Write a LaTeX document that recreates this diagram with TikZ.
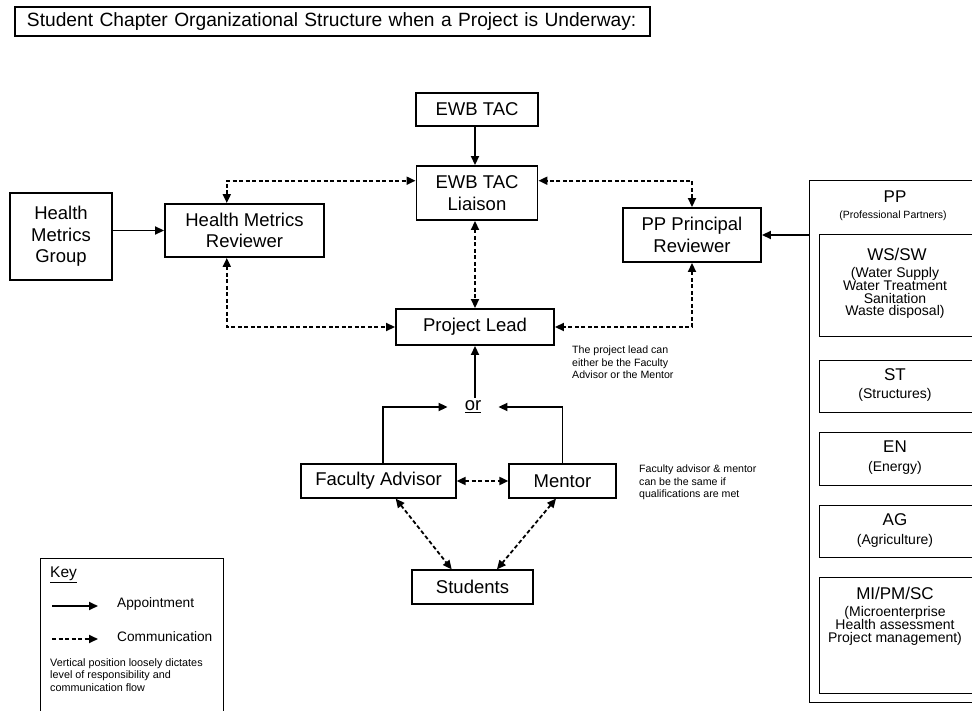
\documentclass[tikz,border=0pt]{standalone}
\usepackage{fontspec}
\setmainfont{Liberation Sans}
\usetikzlibrary{arrows.meta,calc}
\newcommand\fsz[2]{\fontsize{#1}{#2}\selectfont\lineskiplimit=-5pt\relax}
\begin{document}
\begin{tikzpicture}[x=1pt,y=-1pt,
  box/.style={draw, line width=1.9pt, inner sep=2pt, align=center, font=\fsz{18.5}{21.5}},
  tbox/.style={box, line width=1.2pt},
  arr/.style={line width=1.8pt, -{Triangle[length=9pt,width=8pt]}},
  darr/.style={arr, dash pattern=on 4pt off 2.5pt},
  dboth/.style={darr, {Triangle[length=9pt,width=8pt]}-{Triangle[length=9pt,width=8pt]}},
  hdr/.style={inner sep=0pt, font=\fsz{17}{18}},
  sub/.style={inner sep=0pt, align=center, font=\fsz{14}{12.8}},
  note/.style={anchor=north west, inner sep=0pt, align=left, font=\fsz{10.6}{12.4}}]
\useasboundingbox (0,0) rectangle (972,711);
\clip (0,0) rectangle (972,711);
% title
\node[tbox, minimum width=635pt, minimum height=29pt, text width=611pt, align=left, inner xsep=12pt, font=\fsz{19.2}{20}] (title) at (332.5,21.5) {\mbox{Student Chapter Organizational Structure when a Project is Underway:}};
% main boxes
\node[box, minimum width=122pt, minimum height=33pt] (ewbtac) at (477,109.5) {EWB TAC};
\node[box, minimum width=121pt, minimum height=54pt] (liaison) at (477,193) {EWB TAC\\Liaison};
\node[tbox, minimum width=102pt, minimum height=87pt] (hmg) at (61,236.5) {Health\\Metrics\\Group};
\node[box, minimum width=159pt, minimum height=53pt] (hmr) at (244.5,230.5) {Health Metrics\\Reviewer};
\node[box, minimum width=138pt, minimum height=54pt] (ppr) at (692,235) {PP Principal\\Reviewer};
\node[box, minimum width=158pt, minimum height=36pt] (pl) at (475,327) {Project Lead};
\node[inner xsep=17pt, inner ysep=3pt, font=\fsz{18.5}{21.5}] (or) at (473,407) {\underline{or}};
\node[tbox, minimum width=155pt, minimum height=34pt] (fa) at (378.5,481) {Faculty Advisor};
\node[tbox, minimum width=107pt, minimum height=34pt] (mentor) at (562.5,481) {Mentor};
\node[tbox, minimum width=121pt, minimum height=34pt] (students) at (472.5,587) {Students};
% notes
\node[note] (plnote) at (572,346) {The project lead can\\either be the Faculty\\Advisor or the Mentor};
\node[note] (fmnote) at (639,465) {Faculty advisor \& mentor\\can be the same if\\qualifications are met};
% key
\node[tbox, anchor=north west, minimum width=183pt, minimum height=170pt] (key) at (40,558) {};
\node[anchor=west, inner sep=0pt, font=\fsz{15.5}{17}] (keyt) at (50,575) {\underline{Key}};
\coordinate (ka1) at (52,606);
\coordinate (ka2) at (98,606);
\coordinate (kc1) at (52,639);
\coordinate (kc2) at (98,639);
\draw[arr] (ka1) -- (ka2);
\draw[darr] (kc1) -- (kc2);
\node[anchor=west, inner sep=0pt, font=\fsz{13.7}{15}] (appt) at (117,604) {Appointment};
\node[anchor=west, inner sep=0pt, font=\fsz{13.7}{15}] (comm) at (117,637) {Communication};
\node[note, font=\fsz{10.8}{12.5}] (keynote) at (50,658) {Vertical position loosely dictates\\level of responsibility and\\communication flow};
% PP column
\node[tbox, anchor=north west, minimum width=181pt, minimum height=522pt] (pp) at (809,180) {};
\node[hdr] (ppt) at (895,197) {PP};
\node[inner sep=0pt, font=\fsz{10.5}{12}] (pps) at (893,215.5) {(Professional Partners)};
\node[tbox, anchor=north west, minimum width=171pt, minimum height=102pt] (ws) at (819,234) {};
\node[tbox, anchor=north west, minimum width=171pt, minimum height=52pt] (st) at (819,360) {};
\node[tbox, anchor=north west, minimum width=171pt, minimum height=53pt] (en) at (819,432) {};
\node[tbox, anchor=north west, minimum width=171pt, minimum height=52pt] (ag) at (819,505) {};
\node[tbox, anchor=north west, minimum width=171pt, minimum height=116pt] (mi) at (819,577) {};
\node[hdr] (wsh) at (897,254) {WS/SW};
\node[sub] (wss) at (895,293) {(Water Supply\\Water Treatment\\Sanitation\\Waste disposal)};
\node[hdr] (sth) at (895,375) {ST};
\node[sub] (sts) at (895,395) {(Structures)};
\node[hdr] (enh) at (895,447) {EN};
\node[sub] (ens) at (895,468) {(Energy)};
\node[hdr] (agh) at (895,520) {AG};
\node[sub] (ags) at (895,541) {(Agriculture)};
\node[hdr] (mih) at (895,593) {MI/PM/SC};
\node[sub] (mis) at (895,626) {(Microenterprise\\Health assessment\\Project management)};
% helper points
\coordinate (lw) at ($(liaison.north west)!0.28!(liaison.south west)$);
\coordinate (le) at ($(liaison.north east)!0.28!(liaison.south east)$);
\coordinate (hmrt) at ($(hmr.north west)!0.39!(hmr.north east)$);
\coordinate (hmrb) at ($(hmr.south west)!0.39!(hmr.south east)$);
\coordinate (fat) at ($(fa.north west)!0.53!(fa.north east)$);
\coordinate (fab) at ($(fa.south west)!0.61!(fa.south east)$);
\coordinate (mb) at ($(mentor.south west)!0.44!(mentor.south east)$);
\coordinate (st1) at ($(students.north west)!0.33!(students.north east)$);
\coordinate (st2) at ($(students.north west)!0.70!(students.north east)$);
% connectors
\draw[arr] (hmr.west -| hmg.east) -- (hmr.west);
\draw[arr] (pp.west |- ppr.east) -- (ppr.east);
\draw[arr] (ewbtac.south -| pl.north) -- (liaison.north -| pl.north);
\draw[dboth] (hmrt) |- (lw);
\draw[dboth] (ppr.north) |- (le);
\draw[dboth] (liaison.south -| pl.north) -- (pl.north);
\draw[dboth] (hmrb) |- (pl.west);
\draw[dboth] (ppr.south) |- (pl.east);
\draw[arr] (or.north -| pl.south) -- (pl.south);
\draw[arr] (fat) |- (or.west);
\draw[arr] (mentor.north) |- (or.east);
\draw[dboth] (fa.east) -- (mentor.west);
\draw[dboth] (fab) -- (st1);
\draw[dboth] (mb) -- (st2);
\end{tikzpicture}
\end{document}
